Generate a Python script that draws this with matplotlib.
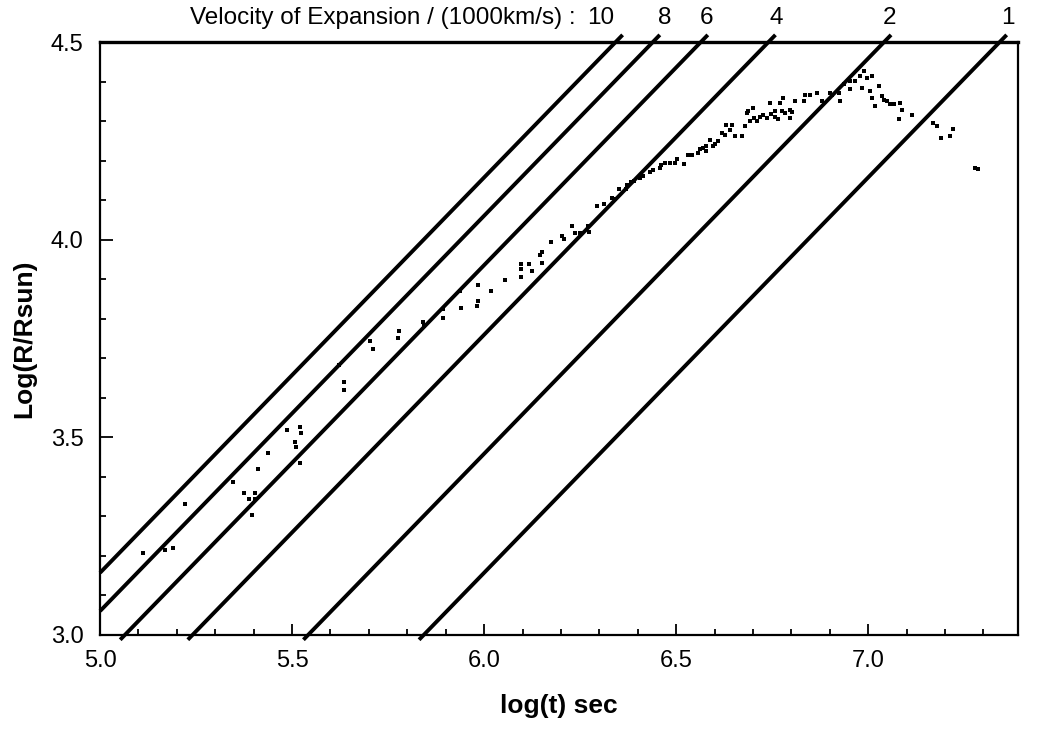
import numpy as np
import matplotlib
matplotlib.use('Agg')
import matplotlib.pyplot as plt
from matplotlib.ticker import MultipleLocator

plt.rcParams['font.family'] = ['Liberation Sans', 'DejaVu Sans']

# ── data ─────────────────────────────────────────────────────────────────
# expansion velocities of the reference lines, in 1000 km/s
velocities = [10, 8, 6, 4, 2, 1]
R_SUN_KM = 6.96e5

# measured points: log(t) [s]  vs  log(R/Rsun)
log_t = [5.113, 5.169, 5.191, 5.220, 5.347, 5.376, 5.389, 5.404, 5.404, 5.396,
         5.410, 5.438, 5.486, 5.508, 5.509, 5.521, 5.523, 5.521, 5.622, 5.634,
         5.634, 5.703, 5.712, 5.779, 5.777, 5.842, 5.844, 5.892, 5.892, 5.938,
         5.939, 5.983, 5.983, 5.982, 6.018, 6.055, 6.095, 6.096, 6.096, 6.117,
         6.126, 6.146, 6.152, 6.152, 6.174, 6.203, 6.208, 6.229, 6.237, 6.250,
         6.271, 6.272, 6.293, 6.313, 6.333, 6.341, 6.350, 6.370, 6.372, 6.382,
         6.391, 6.406, 6.415, 6.432, 6.441, 6.458, 6.461, 6.471, 6.484, 6.497,
         6.503, 6.520, 6.530, 6.541, 6.556, 6.563, 6.571, 6.578, 6.578, 6.589,
         6.596, 6.602, 6.610, 6.619, 6.628, 6.630, 6.641, 6.645, 6.652, 6.671,
         6.678, 6.684, 6.688, 6.693, 6.701, 6.703, 6.710, 6.719, 6.727, 6.736,
         6.745, 6.747, 6.758, 6.758, 6.766, 6.771, 6.775, 6.779, 6.784, 6.797,
         6.801, 6.797, 6.810, 6.832, 6.836, 6.849, 6.866, 6.879, 6.901, 6.905,
         6.925, 6.927, 6.936, 6.953, 6.953, 6.966, 6.979, 6.984, 6.988, 6.997,
         7.005, 7.010, 7.010, 7.018, 7.027, 7.036, 7.040, 7.049, 7.057, 7.066,
         7.079, 7.083, 7.088, 7.114, 7.170, 7.179, 7.189, 7.212, 7.220, 7.279,
         7.287]
log_r = [3.207, 3.215, 3.221, 3.331, 3.388, 3.359, 3.344, 3.359, 3.344, 3.304,
         3.419, 3.460, 3.519, 3.489, 3.475, 3.527, 3.511, 3.435, 3.682, 3.641,
         3.620, 3.744, 3.723, 3.770, 3.751, 3.792, 3.781, 3.825, 3.802, 3.869,
         3.827, 3.886, 3.846, 3.833, 3.871, 3.899, 3.939, 3.927, 3.905, 3.939,
         3.922, 3.962, 3.968, 3.941, 3.994, 4.010, 4.002, 4.035, 4.016, 4.016,
         4.035, 4.020, 4.084, 4.091, 4.106, 4.104, 4.127, 4.128, 4.139, 4.145,
         4.148, 4.157, 4.160, 4.172, 4.177, 4.182, 4.189, 4.194, 4.194, 4.194,
         4.203, 4.192, 4.213, 4.215, 4.220, 4.230, 4.232, 4.236, 4.225, 4.253,
         4.236, 4.242, 4.249, 4.270, 4.266, 4.289, 4.278, 4.289, 4.262, 4.262,
         4.287, 4.321, 4.325, 4.299, 4.333, 4.308, 4.299, 4.311, 4.316, 4.308,
         4.346, 4.319, 4.325, 4.311, 4.304, 4.346, 4.325, 4.359, 4.321, 4.329,
         4.322, 4.308, 4.350, 4.350, 4.367, 4.365, 4.371, 4.350, 4.371, 4.367,
         4.371, 4.350, 4.395, 4.401, 4.380, 4.401, 4.413, 4.384, 4.426, 4.409,
         4.375, 4.413, 4.359, 4.337, 4.388, 4.363, 4.354, 4.350, 4.342, 4.344,
         4.304, 4.346, 4.329, 4.316, 4.295, 4.287, 4.257, 4.262, 4.281, 4.182,
         4.180]

# ── figure ───────────────────────────────────────────────────────────────
fig = plt.figure(figsize=(10.4, 7.33), dpi=100)
ax = fig.add_axes([0.0962, 0.1337, 0.8826, 0.809])

xmin, xmax, ymin, ymax = 5.0, 7.39, 3.0, 4.5

# constant-velocity lines: R = v t  ->  log R/Rsun = log t + log(v*1000/Rsun)
for v in velocities:
    off = np.log10(v * 1000.0 / R_SUN_KM)
    y0, y1 = ymin - 0.012, ymax + 0.018
    x0, x1 = y0 - off, y1 - off
    if x0 < xmin:
        x0 = xmin
        y0 = xmin + off
    ax.plot([x0, x1], [y0, y1], color='black', lw=2.8, clip_on=False,
            solid_capstyle='butt', zorder=3)

ax.plot(log_t, log_r, 's', color='black', ms=2.7, mew=0, zorder=4)

ax.set_xlim(xmin, xmax)
ax.set_ylim(ymin, ymax)

# header with the velocity labels
ax.text(6.238, 1.04, 'Velocity of Expansion / (1000km/s) :', fontsize=17.5,
        ha='right', va='center', transform=ax.get_xaxis_transform())
label_dx = [-0.04, 0.03, 0.015, 0.02, 0.015, 0.02]
for v, dx in zip(velocities, label_dx):
    xtop = ymax - np.log10(v * 1000.0 / R_SUN_KM)
    ax.text(xtop + dx, 1.04, str(v), fontsize=17.5, ha='center', va='center',
            transform=ax.get_xaxis_transform())

ax.xaxis.set_major_locator(MultipleLocator(0.5))
ax.xaxis.set_minor_locator(MultipleLocator(0.1))
ax.yaxis.set_major_locator(MultipleLocator(0.5))
ax.yaxis.set_minor_locator(MultipleLocator(0.1))
ax.xaxis.set_major_formatter(plt.FormatStrFormatter('%.1f'))
ax.yaxis.set_major_formatter(plt.FormatStrFormatter('%.1f'))
ax.tick_params(which='both', direction='in', top=False, right=False,
               labelsize=17, width=1.3)
ax.tick_params(axis='x', which='major', length=8, pad=11)
ax.tick_params(axis='y', which='major', length=9, pad=12)
ax.tick_params(which='minor', length=4.5)

for s in ax.spines.values():
    s.set_linewidth(1.6)
ax.spines['top'].set_linewidth(2.4)

ax.set_xlabel('log(t) sec', fontsize=19, fontweight='bold', labelpad=16)
ax.set_ylabel('Log(R/Rsun)', fontsize=19, fontweight='bold', labelpad=10)

fig.savefig('out.png', dpi=100)
